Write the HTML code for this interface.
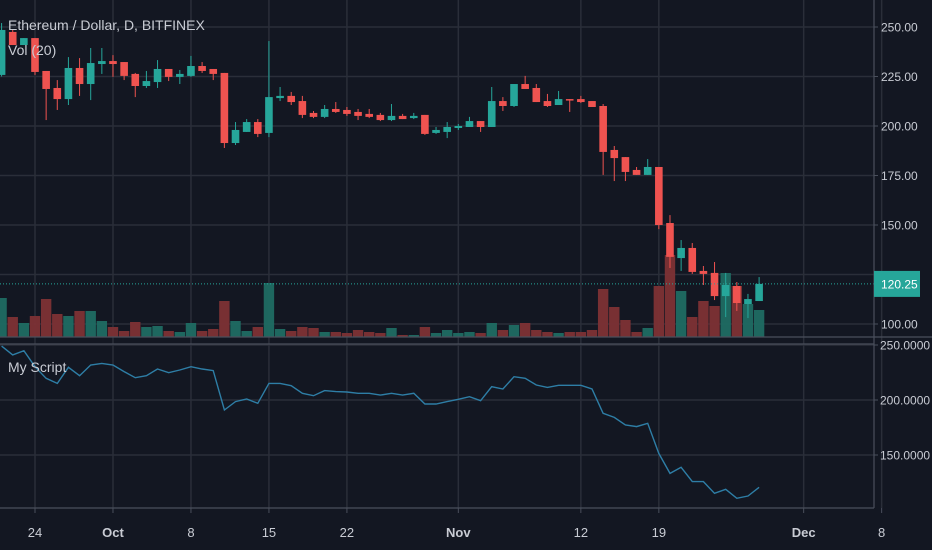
<!DOCTYPE html>
<html><head><meta charset="utf-8"><style>
html,body{margin:0;padding:0;background:#131722;width:932px;height:550px;overflow:hidden}
svg{display:block}
text{font-family:"Liberation Sans",sans-serif}
</style></head><body>
<svg id="chart" width="932" height="550" xmlns="http://www.w3.org/2000/svg">
<rect x="0" y="0" width="932" height="550" fill="#131722"/>
<g id="grid"></g>
<g id="vol"></g>
<g id="candles"></g>
<g id="script"></g>
<g id="axes"></g>
<text x="8" y="30" fill="#c9ccd4" font-size="14">Ethereum / Dollar, D, BITFINEX</text>
<text x="8" y="55" fill="#c9ccd4" font-size="14">Vol (20)</text>
<text x="8" y="372" fill="#c9ccd4" font-size="14">My Script</text>
</svg>
<script>
const days=[-3,-2,-1,0,1,2,3,4,5,6,7,8,9,10,11,12,13,14,15,16,17,18,19,20,21,22,23,24,25,26,27,28,29,30,31,32,33,34,35,36,37,38,39,40,41,42,43,44,45,46,47,48,49,50,51,52,53,54,55,56,57,58,59,60,61,62,63,64,65];
const opens=[225.8,247.5,240.9,244.4,227.8,219.2,213.6,229.3,221.2,231.3,232.8,232.3,226.3,220.2,222.2,228.8,224.8,225.3,230.3,228.8,226.8,191.4,197.0,202.0,196.5,214.1,215.2,212.6,206.6,204.6,208.6,208.1,207.1,206.1,205.6,203.0,205.1,204.0,205.6,196.5,197.0,199.0,199.5,202.5,199.5,212.6,210.1,221.2,219.2,212.6,210.6,213.6,213.6,212.6,210.1,187.9,184.3,177.8,175.3,179.3,151.0,133.3,138.4,126.8,125.8,114.1,119.2,110.1,111.6];
const highs=[252,248.5,244.4,244.4,227.8,223.2,234.8,234.3,239.4,239.4,235.8,232.3,226.8,227.8,233.3,228.8,228.3,235.4,232.3,228.8,226.8,202.0,203.5,203.5,242.9,219.7,217.2,215.2,207.6,210.6,212.1,209.6,208.6,208.6,206.6,211.1,206.1,206.6,205.6,199.5,202.0,201.0,204.6,202.5,219.7,214.6,221.2,225.3,221.2,216.2,217.7,213.6,215.2,212.6,211.1,189.9,184.3,179.3,183.3,179.3,155.0,142.4,140.9,129.3,131.3,125.8,121.2,115.2,123.7];
const lows=[225,240.9,240.9,225.8,203.0,208.1,210.6,215.2,213.1,226.3,224.8,223.2,214.6,219.2,219.2,222.7,221.2,224.8,226.8,223.2,188.9,190.4,197.0,194.4,194.4,212.6,210.6,204.0,204.0,204.0,206.6,205.1,203.0,204.0,202.5,202.5,203.5,203.5,195.5,196.0,193.9,198.0,199.5,197.0,199.5,207.6,209.6,218.7,212.1,209.6,210.6,207.1,211.6,209.6,175.3,172.2,172.2,175.3,175.3,147.9,128.3,126.8,125.3,119.7,112.1,103.5,106.6,103.0,111.6];
const closes=[248.5,240.9,244.4,227.3,218.7,213.6,229.3,221.2,231.8,232.8,231.3,225.3,220.2,222.7,228.8,224.8,226.3,230.3,227.8,226.3,191.4,198.0,202.0,196.0,214.6,215.2,212.1,205.6,204.6,208.6,207.1,206.1,205.1,204.6,203.0,205.1,203.5,205.1,196.0,198.0,199.5,200.0,202.5,199.5,212.6,210.1,221.2,218.7,212.1,210.1,213.6,213.1,212.1,209.6,186.9,183.8,176.8,175.3,179.3,150.0,133.9,138.4,126.3,125.3,114.1,119.7,110.6,112.6,120.25];
const volumes=[39,20,14,21,38,23,21,26,26,16,10,6,15,10,11,6,5,14,6,8,36,16,6,10,54,8,6,10,9,5,5,4,7,5,4,9,2,2,10,4,7,4,5,4,14,7,12,14,7,5,4,5,5,7,48,30,17,5,9,51,82,46,20,36,31,64,51,33,27];
const scriptVals=[249,241,244.8,230.3,219.7,215.1,229.7,222.1,231.8,233.3,231.8,225.8,220.3,222.1,228.2,224.8,227.3,230.3,228.2,226.7,190.9,198.5,200.9,197.0,215.1,215.1,213.0,206.1,203.9,208.5,207.6,207.3,206.1,206.1,204.5,206.1,204.5,206.1,196.4,196.4,198.5,200.6,203.0,199.4,212.1,210,221.2,219.7,213.6,211.5,213.4,213.4,213.4,210,187.9,184.2,177.3,175.8,178.8,151.5,133.3,138.8,125.8,125.8,115.2,118.8,110.6,112.7,120.6];
const priceTicks=[250,225,200,175,150,125,100];
const priceTickLabelsShown=[true,true,true,true,true,false,true];
const scriptTicks=[250,200,150];
const timeTickDays=[0,7,14,21,28,38,49,56,69,76];
const timeTickLabels=["24","Oct","8","15","22","Nov","12","19","Dec","8"];
const lastPrice=120.25;

const NS="http://www.w3.org/2000/svg";
const PLOT_R=874;
const xOf=d=>35+d*11.14;
const yP=p=>126-(p-200)*1.98;
const yS=v=>400-(v-200)*1.1;
const VOL_BASE=337;
const yV=v=>VOL_BASE-v;
function mk(tag,attrs,parent){const e=document.createElementNS(NS,tag);for(const k in attrs)e.setAttribute(k,attrs[k]);parent.appendChild(e);return e;}
const G=document.getElementById('grid'),V=document.getElementById('vol'),C=document.getElementById('candles'),S=document.getElementById('script'),A=document.getElementById('axes');
const GRID="#2a2e39";
priceTicks.forEach(t=>{const l=mk('line',{x1:0,x2:PLOT_R,y1:yP(t),y2:yP(t),stroke:GRID,'stroke-width':1.5},G);

});
scriptTicks.forEach(t=>{const l=mk('line',{x1:0,x2:PLOT_R,y1:yS(t),y2:yS(t),stroke:GRID,'stroke-width':1.5},G);

});
timeTickDays.forEach(d=>{const l=mk('line',{x1:xOf(d),x2:xOf(d),y1:0,y2:508,stroke:GRID,'stroke-width':1.5},G);

});
days.forEach((d,i)=>{const up=closes[i]>=opens[i];const r=mk('rect',{x:xOf(d)-5.2,y:yV(volumes[i]),width:10.4,height:volumes[i],fill:up?'#1f6b63':'#7d3135','fill-opacity':0.95},V);

});
days.forEach((d,i)=>{const up=closes[i]>=opens[i];const col=up?'#26a69a':'#ef5350';const x=xOf(d);
const g=mk('g',{},C);


mk('line',{x1:x,x2:x,y1:yP(highs[i]),y2:yP(lows[i]),stroke:col,'stroke-width':1},g);
const t=Math.min(yP(opens[i]),yP(closes[i]));const h=Math.max(1.5,Math.abs(yP(opens[i])-yP(closes[i])));
mk('rect',{x:x-3.8,y:t,width:7.6,height:h,fill:col},g);});
const lp=mk('line',{x1:0,x2:PLOT_R,y1:yP(lastPrice),y2:yP(lastPrice),stroke:'#26a69a','stroke-width':1,'stroke-dasharray':'1,2'},C);


const pts=days.map((d,i)=>xOf(d).toFixed(1)+','+yS(scriptVals[i]).toFixed(1)).join(' ');
const pl=mk('polyline',{points:pts,fill:'none',stroke:'#2e7ea6','stroke-width':1.4},S);


[[PLOT_R,0,PLOT_R,508],[0,337,932,337],[0,344,PLOT_R,344],[0,508,PLOT_R,508]].forEach(a=>{const l=mk('line',{x1:a[0],y1:a[1],x2:a[2],y2:a[3],stroke:'#4a4f5c','stroke-width':1.2},A);

});
priceTicks.forEach((t,i)=>{mk('line',{x1:PLOT_R,x2:PLOT_R+4,y1:yP(t),y2:yP(t),stroke:'#4a4f5c'},A);
if(!priceTickLabelsShown[i])return;
const tx=mk('text',{x:881,y:yP(t)+4.5,fill:'#c9ccd4','font-size':12},A);tx.textContent=t.toFixed(2);

});
scriptTicks.forEach(t=>{mk('line',{x1:PLOT_R,x2:PLOT_R+4,y1:yS(t),y2:yS(t),stroke:'#4a4f5c'},A);
const tx=mk('text',{x:880,y:yS(t)+4.5,fill:'#c9ccd4','font-size':12},A);tx.textContent=t.toFixed(4);

});
timeTickDays.forEach((d,i)=>{mk('line',{x1:xOf(d),x2:xOf(d),y1:508,y2:513,stroke:'#4a4f5c'},A);
const tx=mk('text',{x:xOf(d),y:537,fill:'#c9ccd4','font-size':13,'text-anchor':'middle','font-weight':(timeTickLabels[i]=="Oct"||timeTickLabels[i]=="Nov"||timeTickLabels[i]=="Dec")?'bold':'normal'},A);tx.textContent=timeTickLabels[i];

});
const bg=mk('rect',{x:PLOT_R,y:yP(lastPrice)-13,width:46,height:26,fill:'#26a69a'},A);


const bt=mk('text',{x:881,y:yP(lastPrice)+4.5,fill:'#ffffff','font-size':12},A);bt.textContent=lastPrice.toFixed(2);


</script>
</body></html>
